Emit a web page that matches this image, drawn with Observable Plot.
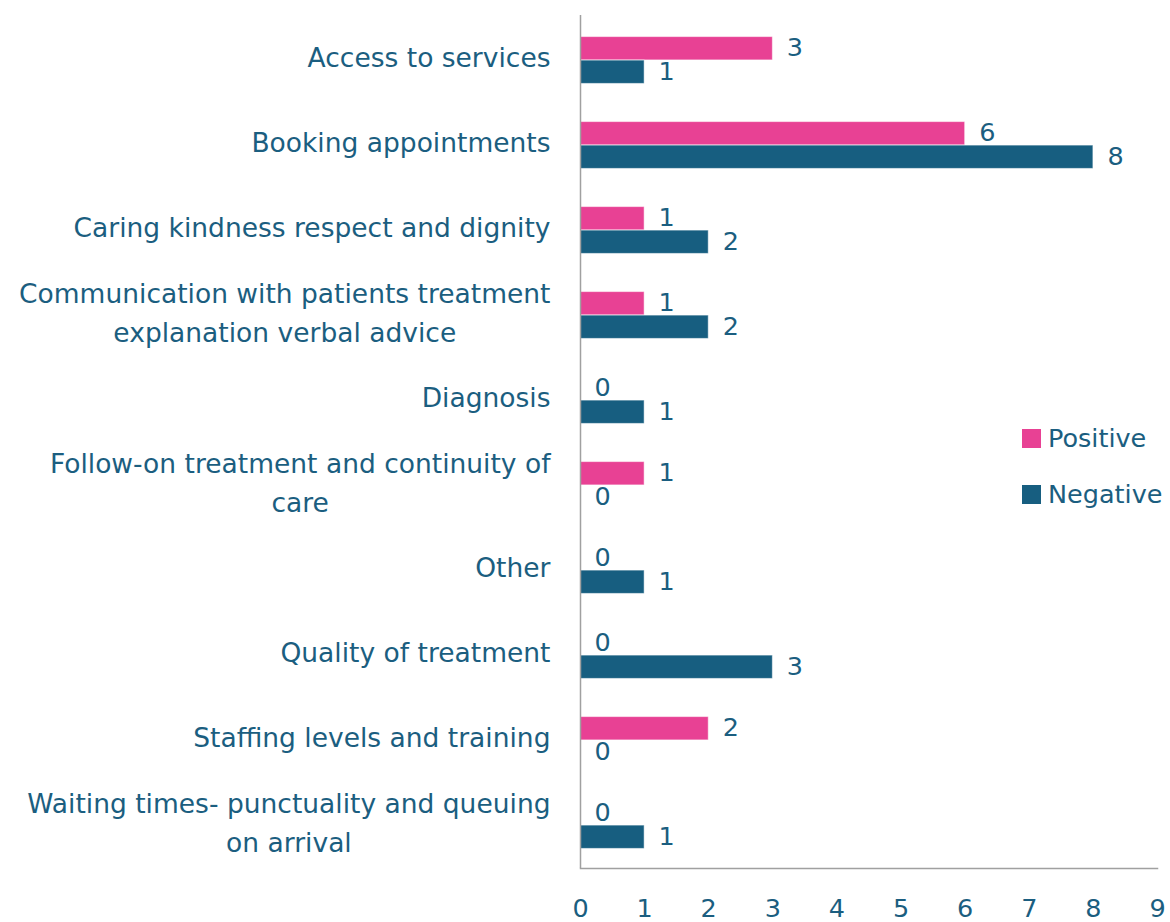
<!DOCTYPE html>
<html><head><meta charset="utf-8">
<script src="https://cdn.jsdelivr.net/npm/d3@7"></script>
<script src="https://cdn.jsdelivr.net/npm/@observablehq/plot@0.6"></script>
<style>
body{margin:0;background:#fff;}
#wrap{position:relative;width:1170px;height:922px;font-family:"DejaVu Sans",sans-serif;color:#1B5E80;}
.legend{position:absolute;left:1022px;top:421px;font-size:25.5px;line-height:34px;}
.legend div{display:flex;align-items:center;height:34px;margin-bottom:22px;}
.legend span.sw{display:inline-block;width:19px;height:19px;margin-right:7px;}
</style></head><body><div id="wrap"></div>
<script>
const categories = [
  "Access to services",
  "Booking appointments",
  "Caring kindness respect and dignity",
  "Communication with patients treatment explanation verbal advice",
  "Diagnosis",
  "Follow-on treatment and continuity of care",
  "Other",
  "Quality of treatment",
  "Staffing levels and training",
  "Waiting times- punctuality and queuing on arrival"
];
const wrappedLabels = {
  "Communication with patients treatment explanation verbal advice": "Communication with patients treatment\nexplanation verbal advice",
  "Follow-on treatment and continuity of care": "Follow-on treatment and continuity of\ncare",
  "Waiting times- punctuality and queuing on arrival": "Waiting times- punctuality and queuing\non arrival"
};
const positive = [3, 6, 1, 1, 0, 1, 0, 0, 2, 0];
const negative = [1, 8, 2, 2, 1, 0, 1, 3, 0, 1];
const seriesNames = ["Positive", "Negative"];
const seriesColors = ["#E84194", "#175E80"];
const xTicks = [0, 1, 2, 3, 4, 5, 6, 7, 8, 9];

const textColor = "#1B5E80";
const font = "'DejaVu Sans', sans-serif";

const posData = categories.map((c, i) => ({category: c, series: "Positive", value: positive[i]}));
const negData = categories.map((c, i) => ({category: c, series: "Negative", value: negative[i]}));

const chart = Plot.plot({
  width: 1170, height: 922,
  marginLeft: 580, marginRight: 13, marginTop: 15, marginBottom: 54,
  style: {fontFamily: font, fontSize: "24px", color: textColor, background: "white"},
  x: {domain: [0, 9], label: null},
  y: {domain: categories, padding: 0, label: null},
  color: {domain: seriesNames, range: seriesColors},
  marks: [
    Plot.barX(posData, {x: "value", y: "category", fill: "series", insetTop: 19.6, insetBottom: 42.1, stroke: "white", strokeOpacity: 0.5, strokeWidth: 1}),
    Plot.barX(negData, {x: "value", y: "category", fill: "series", insetTop: 43.1, insetBottom: 18.6, stroke: "white", strokeOpacity: 0.5, strokeWidth: 1}),
    Plot.text(posData, {x: "value", y: "category", text: d => String(d.value), dy: -12, dx: 14, textAnchor: "start", fill: textColor, fontSize: 25.5}),
    Plot.text(negData, {x: "value", y: "category", text: d => String(d.value), dy: 12, dx: 14, textAnchor: "start", fill: textColor, fontSize: 25.5}),
    Plot.ruleX([0], {stroke: "#A0A0A0", strokeWidth: 1.5}),
    Plot.frame({anchor: "bottom", stroke: "#A0A0A0", strokeWidth: 1.5}),
    Plot.axisX({ticks: xTicks, tickSize: 0, tickPadding: 30, fontSize: 25.5, fill: textColor, label: null}),
    Plot.axisY({tickSize: 0, tickPadding: 30, fontSize: 26.5, fill: textColor, lineHeight: 1.45, dy: -5, label: null,
      tickFormat: c => wrappedLabels[c] ?? c})
  ]
});

const wrap = document.getElementById("wrap");
wrap.append(chart);

// center multi-line category labels within their right-aligned block
chart.querySelectorAll('g[aria-label="y-axis tick label"] text').forEach(t => {
  const spans = t.querySelectorAll("tspan");
  if (spans.length < 2) return;
  const w = Math.max(...[...spans].map(s => s.getComputedTextLength()));
  t.setAttribute("text-anchor", "middle");
  spans.forEach(s => s.setAttribute("x", -w / 2));
});

// legend
const legend = document.createElement("div");
legend.className = "legend";
seriesNames.forEach((name, i) => {
  const row = document.createElement("div");
  const sw = document.createElement("span");
  sw.className = "sw";
  sw.style.background = seriesColors[i];
  row.append(sw, document.createTextNode(name));
  legend.append(row);
});
wrap.append(legend);
</script>
</body></html>
